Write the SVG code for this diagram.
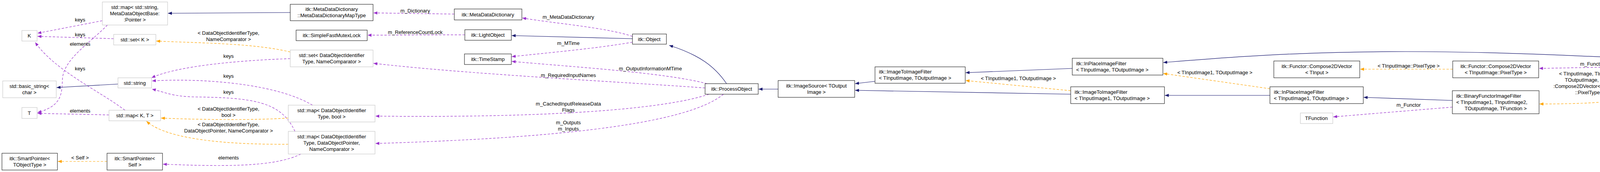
<svg xmlns="http://www.w3.org/2000/svg" width="4827" height="440" viewBox="0 0 4827 440">
<defs>
<marker id="ab" viewBox="0 0 10 8" refX="10" refY="4" markerWidth="10" markerHeight="8" markerUnits="userSpaceOnUse" orient="auto"><path d="M0,0 L10,4 L0,8 Z" fill="#191970"/></marker>
<marker id="ap" viewBox="0 0 10 8" refX="10" refY="4" markerWidth="10" markerHeight="8" markerUnits="userSpaceOnUse" orient="auto"><path d="M0,0 L10,4 L0,8 Z" fill="#9a32cd"/></marker>
<marker id="ao" viewBox="0 0 10 8" refX="10" refY="4" markerWidth="10" markerHeight="8" markerUnits="userSpaceOnUse" orient="auto"><path d="M0,0 L10,4 L0,8 Z" fill="#ffa500"/></marker>
<style>
text{font-family:"Liberation Sans",Arial,sans-serif;font-size:13px;fill:#000}
.n rect{fill:#fff;stroke:#000;stroke-width:1}
.g rect{fill:#fff;stroke:#bfbfbf;stroke-width:1}
.c rect{fill:#bfbfbf;stroke:#000}
.m{text-anchor:middle}
.e path{fill:none;stroke-width:1.2}
.b{stroke:#191970;marker-end:url(#ab)}
.p{stroke:#9a32cd;stroke-dasharray:6,4;marker-end:url(#ap)}
.o{stroke:#ffa500;stroke-dasharray:6,4;marker-end:url(#ao)}
</style>
</defs>
<rect width="4827" height="440" fill="#fff"/>
<g id="edges" class="e">
<path class="b" d="M743,32 L430,34"/>
<path class="p" d="M1163,36 L956,33"/>
<path class="p" d="M1619,93 C1550,70 1420,60 1337,46"/>
<path class="b" d="M1619,99 L1310,91"/>
<path class="p" d="M1619,108 C1520,125 1400,135 1310,145"/>
<path class="p" d="M1810,214 C1700,185 1450,170 1310,157"/>
<path class="p" d="M1805,225 C1600,210 1200,190 956,162"/>
<path class="p" d="M1815,241 C1700,280 1400,302 961,297"/>
<path class="p" d="M1852,241 C1780,300 1550,350 961,367"/>
<path class="b" d="M1860,214 C1830,170 1790,140 1713,116"/>
<path class="p" d="M1190,89 L941,90"/>
<path class="b" d="M1992,228 L1942,228"/>
<path class="b" d="M2240,208 L2189,214"/>
<path class="b" d="M2741,241 L2189,231"/>
<path class="o" d="M2741,232 L2472,206"/>
<path class="b" d="M2745,175 L2472,186"/>
<path class="b" d="M3251,244 L2982,244"/>
<path class="o" d="M3251,227 L2978,188"/>
<path class="b" d="M4208,151 C4000,140 3800,132 3600,132 C3300,132 3100,150 2978,160"/>
<path class="b" d="M3718,257 L3491,249"/>
<path class="p" d="M3718,274 L3413,299"/>
<path class="o" d="M3719,177 L3482,177"/>
<path class="p" d="M4208,170 L3940,175"/>
<path class="o" d="M4290,204 C4240,250 4150,266 3941,266"/>
<path class="b" d="M4560,166 L4510,166"/>
<path class="p" d="M262,53 L96,85"/>
<path class="p" d="M275,64 C230,110 165,150 160,200 C158,240 160,270 96,288"/>
<path class="p" d="M291,99 L96,93"/>
<path class="p" d="M320,282 C250,230 140,180 90,108"/>
<path class="p" d="M279,294 L96,290"/>
<path class="b" d="M302,215 L145,224"/>
<path class="p" d="M743,150 C600,155 450,170 388,199"/>
<path class="p" d="M800,269 C700,210 500,200 389,207"/>
<path class="p" d="M755,336 C720,260 650,250 500,248 C440,247 420,235 389,228"/>
<path class="o" d="M743,133 C650,110 500,110 400,105"/>
<path class="o" d="M738,302 C650,308 500,306 412,302"/>
<path class="o" d="M738,369 C600,370 430,360 375,310"/>
<path class="p" d="M770,394 C700,430 550,425 417,420"/>
<path class="o" d="M274,413 L148,413"/>
</g>
<g id="elabels">
<text class="m" x="1063" y="32">m_Dictionary</text>
<text class="m" x="1455" y="48">m_MetaDataDictionary</text>
<text class="m" x="1063" y="87">m_ReferenceCountLock</text>
<text class="m" x="1455" y="115">m_MTime</text>
<text class="m" x="1665" y="180">m_OutputInformationMTime</text>
<text class="m" x="1455" y="197">m_RequiredInputNames</text>
<text class="m" x="1455" y="270">m_CachedInputReleaseData</text>
<text class="m" x="1455" y="286">Flags</text>
<text class="m" x="1455" y="318">m_Outputs</text>
<text class="m" x="1455" y="334">m_Inputs</text>
<text class="m" x="2607" y="205">&lt; TInputImage1, TOutputImage &gt;</text>
<text class="m" x="3110" y="190">&lt; TInputImage1, TOutputImage &gt;</text>
<text class="m" x="3606" y="173">&lt; TInputImage::PixelType &gt;</text>
<text class="m" x="3606" y="273">m_Functor</text>
<text class="m" x="4076" y="168">m_Functor</text>
<text class="m" x="4075" y="193">&lt; TInputImage, TInputImage,</text>
<text class="m" x="4075" y="209">TOutputImage, Functor:</text>
<text class="m" x="4075" y="225">:Compose2DVector&lt; TInputImage</text>
<text class="m" x="4075" y="241">::PixelType &gt; &gt;</text>
<text class="m" x="205" y="55">keys</text>
<text class="m" x="205" y="93">keys</text>
<text class="m" x="205" y="117">elements</text>
<text class="m" x="205" y="180">keys</text>
<text class="m" x="205" y="288">elements</text>
<text class="m" x="585" y="89">&lt; DataObjectIdentifierType,</text>
<text class="m" x="585" y="105">NameComparator &gt;</text>
<text class="m" x="585" y="148">keys</text>
<text class="m" x="585" y="199">keys</text>
<text class="m" x="585" y="240">keys</text>
<text class="m" x="585" y="283">&lt; DataObjectIdentifierType,</text>
<text class="m" x="585" y="299">bool &gt;</text>
<text class="m" x="585" y="323">&lt; DataObjectIdentifierType,</text>
<text class="m" x="585" y="339">DataObjectPointer, NameComparator &gt;</text>
<text class="m" x="585" y="408">elements</text>
<text class="m" x="205" y="408">&lt; Self &gt;</text>
</g>
<g id="n_mapstr" class="g"><rect x="262" y="5" width="167" height="59"/><text class="m" x="345" y="23">std::map&lt; std::string,</text><text class="m" x="345" y="39">MetaDataObjectBase:</text><text class="m" x="345" y="55">:Pointer &gt;</text></g>
<g id="n_K" class="g"><rect x="56" y="78" width="39" height="27"/><text class="m" x="75" y="96">K</text></g>
<g id="n_setK" class="g"><rect x="291" y="88" width="108" height="27"/><text class="m" x="345" y="106">std::set&lt; K &gt;</text></g>
<g id="n_basic" class="g"><rect x="7" y="207" width="137" height="43"/><text class="m" x="75" y="225">std::basic_string&lt;</text><text class="m" x="75" y="241">char &gt;</text></g>
<g id="n_string" class="g"><rect x="302" y="199" width="86" height="26"/><text class="m" x="345" y="217">std::string</text></g>
<g id="n_T" class="g"><rect x="56" y="275" width="39" height="28"/><text class="m" x="75" y="294">T</text></g>
<g id="n_mapKT" class="g"><rect x="279" y="282" width="132" height="27"/><text class="m" x="345" y="300">std::map&lt; K, T &gt;</text></g>
<g id="n_spT" class="n"><rect x="5" y="392" width="142" height="43"/><text class="m" x="76" y="410">itk::SmartPointer&lt;</text><text class="m" x="76" y="426">TObjectType &gt;</text></g>
<g id="n_spS" class="n"><rect x="274" y="392" width="142" height="43"/><text class="m" x="345" y="410">itk::SmartPointer&lt;</text><text class="m" x="345" y="426">Self &gt;</text></g>
<g id="n_maptype" class="n"><rect x="743" y="11" width="212" height="42"/><text class="m" x="849" y="28">itk::MetaDataDictionary</text><text class="m" x="849" y="44">::MetaDataDictionaryMapType</text></g>
<g id="n_mutex" class="n"><rect x="758" y="77" width="182" height="27"/><text class="m" x="849" y="95">itk::SimpleFastMutexLock</text></g>
<g id="n_setDO" class="g"><rect x="743" y="128" width="212" height="43"/><text class="m" x="849" y="146">std::set&lt; DataObjectIdentifier</text><text class="m" x="849" y="162">Type, NameComparator &gt;</text></g>
<g id="n_mapbool" class="g"><rect x="738" y="269" width="222" height="43"/><text class="m" x="849" y="287">std::map&lt; DataObjectIdentifier</text><text class="m" x="849" y="303">Type, bool &gt;</text></g>
<g id="n_mapDOP" class="g"><rect x="738" y="336" width="222" height="58"/><text class="m" x="849" y="354">std::map&lt; DataObjectIdentifier</text><text class="m" x="849" y="370">Type, DataObjectPointer,</text><text class="m" x="849" y="386">NameComparator &gt;</text></g>
<g id="n_mdd" class="n"><rect x="1163" y="23" width="173" height="28"/><text class="m" x="1249" y="42">itk::MetaDataDictionary</text></g>
<g id="n_light" class="n"><rect x="1190" y="76" width="119" height="27"/><text class="m" x="1249" y="94">itk::LightObject</text></g>
<g id="n_ts" class="n"><rect x="1189" y="138" width="120" height="27"/><text class="m" x="1249" y="156">itk::TimeStamp</text></g>
<g id="n_object" class="n"><rect x="1619" y="87" width="87" height="26"/><text class="m" x="1662" y="105">itk::Object</text></g>
<g id="n_po" class="n"><rect x="1805" y="214" width="136" height="27"/><text class="m" x="1873" y="232">itk::ProcessObject</text></g>
<g id="n_is" class="n"><rect x="1992" y="206" width="196" height="43"/><text class="m" x="2090" y="224">itk::ImageSource&lt; TOutput</text><text class="m" x="2090" y="240">Image &gt;</text></g>
<g id="n_iti" class="n"><rect x="2240" y="171" width="231" height="42"/><text x="2250" y="188">itk::ImageToImageFilter</text><text x="2250" y="204">&lt; TInputImage, TOutputImage &gt;</text></g>
<g id="n_ip" class="n"><rect x="2745" y="149" width="232" height="43"/><text x="2755" y="167">itk::InPlaceImageFilter</text><text x="2755" y="183">&lt; TInputImage, TOutputImage &gt;</text></g>
<g id="n_iti1" class="n"><rect x="2741" y="222" width="240" height="43"/><text x="2751" y="240">itk::ImageToImageFilter</text><text x="2751" y="256">&lt; TInputImage1, TOutputImage &gt;</text></g>
<g id="n_c2dT" class="n"><rect x="3261" y="156" width="220" height="43"/><text class="m" x="3371" y="174">itk::Functor::Compose2DVector</text><text class="m" x="3371" y="190">&lt; TInput &gt;</text></g>
<g id="n_c2dP" class="n"><rect x="3719" y="156" width="220" height="43"/><text class="m" x="3829" y="174">itk::Functor::Compose2DVector</text><text class="m" x="3829" y="190">&lt; TInputImage::PixelType &gt;</text></g>
<g id="n_ip1" class="n"><rect x="3251" y="222" width="239" height="43"/><text x="3261" y="240">itk::InPlaceImageFilter</text><text x="3261" y="256">&lt; TInputImage1, TOutputImage &gt;</text></g>
<g id="n_bf" class="n"><rect x="3718" y="232" width="222" height="59"/><text x="3728" y="250">itk::BinaryFunctorImageFilter</text><text x="3728" y="266">&lt; TInputImage1, TInputImage2,</text><text class="m" x="3829" y="282">TOutputImage, TFunction &gt;</text></g>
<g id="n_tf" class="g"><rect x="3329" y="289" width="83" height="27"/><text class="m" x="3370" y="307">TFunction</text></g>
<g id="n_bfc" class="n"><rect x="4208" y="129" width="301" height="75"/><text x="4219" y="147">itk::BinaryFunctorImageFilter</text><text x="4219" y="163">&lt; TInputImage, TInputImage,</text><text class="m" x="4358" y="179">TOutputImage, Functor::Compose2DVector</text><text class="m" x="4358" y="195">&lt; TInputImage::PixelType &gt; &gt;</text></g>
<g id="n_main" class="c"><rect x="4560" y="145" width="261" height="43"/><text x="4571" y="163">itk::Compose2DVectorImage</text><text x="4571" y="179">Filter&lt; TInputImage, TOutputImage &gt;</text></g>
</svg>
